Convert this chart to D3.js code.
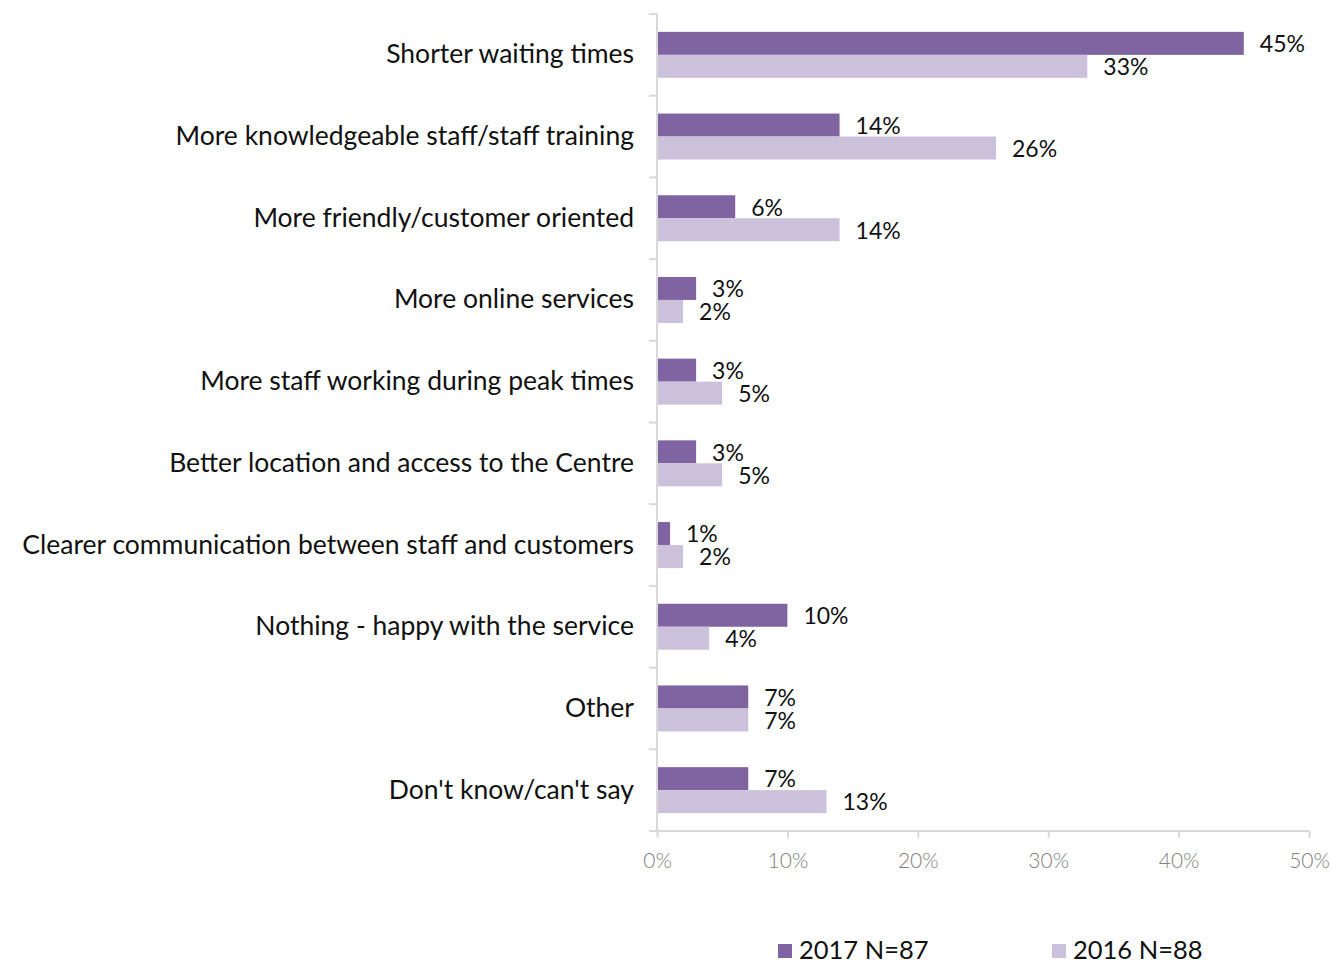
<!DOCTYPE html>
<html>
<head>
<meta charset="utf-8">
<script src="https://cdn.jsdelivr.net/npm/d3@7"></script>
<style>
  body { margin: 0; background: #fff; }
  svg { display: block; font-family: "Lato", "DejaVu Sans", sans-serif; }
</style>
</head>
<body>
<svg id="chart" width="1331" height="965"></svg>
<script>
// Suggested improvements, share of respondents
const categories = [
  "Shorter waiting times",
  "More knowledgeable staff/staff training",
  "More friendly/customer oriented",
  "More online services",
  "More staff working during peak times",
  "Better location and access to the Centre",
  "Clearer communication between staff and customers",
  "Nothing - happy with the service",
  "Other",
  "Don't know/can't say"
];
const values2017 = [45, 14, 6, 3, 3, 3, 1, 10, 7, 7];
const values2016 = [33, 26, 14, 2, 5, 5, 2, 4, 7, 13];
const seriesNames = ["2017 N=87", "2016 N=88"];
const xTicks = [0, 10, 20, 30, 40, 50];

(function draw() {
  const colors = ["#8064A2", "#CCC1DA"];
  const svg = d3.select("#chart");

  const plotLeft = 657, plotRight = 1309, plotTop = 14, plotBottom = 831;
  const x = d3.scaleLinear().domain([0, 50]).range([plotLeft, plotRight]);
  const y = d3.scaleBand().domain(categories).range([plotTop, plotBottom]).padding(0);
  const barH = 23;
  const axisColor = "#D9D9D9";

  // Bars and value labels
  const series = [values2017, values2016];
  series.forEach((vals, si) => {
    svg.append("g").selectAll("rect")
      .data(categories)
      .join("rect")
      .attr("x", x(0))
      .attr("y", (d) => y(d) + y.bandwidth() / 2 - barH + si * barH)
      .attr("width", (d, i) => x(vals[i]) - x(0))
      .attr("height", barH)
      .attr("fill", colors[si]);

    svg.append("g").selectAll("text")
      .data(categories)
      .join("text")
      .attr("x", (d, i) => x(vals[i]) + 16)
      .attr("y", (d) => y(d) + y.bandwidth() / 2 - barH / 2 + si * barH + 3)
      .attr("dominant-baseline", "middle")
      .attr("font-size", 23)
      .attr("fill", "#111")
      .text((d, i) => vals[i] + "%");
  });

  // Category axis
  const yAxis = svg.append("g")
    .attr("transform", `translate(${plotLeft},0)`)
    .call(d3.axisLeft(y).tickSize(0).tickPadding(23));
  yAxis.select(".domain").remove();
  yAxis.selectAll("text")
    .attr("font-size", 26.5).attr("fill", "#111")
    .attr("font-family", "Lato, sans-serif").attr("font-weight", 400);
  svg.append("line")
    .attr("x1", plotLeft).attr("x2", plotLeft).attr("y1", plotTop).attr("y2", plotBottom)
    .attr("stroke", axisColor).attr("stroke-width", 2);
  const boundaries = categories.map((c) => y(c)).concat([plotBottom]);
  svg.append("g").selectAll("line")
    .data(boundaries)
    .join("line")
    .attr("x1", plotLeft - 8).attr("x2", plotLeft)
    .attr("y1", (d) => d).attr("y2", (d) => d)
    .attr("stroke", axisColor).attr("stroke-width", 2);

  // Value axis
  const xAxis = svg.append("g")
    .attr("transform", `translate(0,${plotBottom})`)
    .call(d3.axisBottom(x).tickValues(xTicks).tickFormat((d) => d + "%").tickSize(7).tickPadding(15));
  xAxis.select(".domain").attr("stroke", axisColor).attr("stroke-width", 2)
    .attr("d", `M${plotLeft},0H${plotRight}`);
  xAxis.selectAll(".tick line").attr("stroke", axisColor).attr("stroke-width", 2);
  xAxis.selectAll("text")
    .attr("font-size", 21).attr("fill", "#808080")
    .attr("font-family", "Lato, sans-serif").attr("font-weight", 300);

  // Legend
  const legendX = [778, 1052];
  const legend = svg.append("g").selectAll("g")
    .data(seriesNames)
    .join("g")
    .attr("transform", (d, i) => `translate(${legendX[i]},944)`);
  legend.append("rect").attr("width", 14).attr("height", 14).attr("fill", (d, i) => colors[i]);
  legend.append("text")
    .attr("x", 21).attr("y", 9)
    .attr("dominant-baseline", "middle")
    .attr("font-size", 25.5)
    .attr("fill", "#111")
    .text((d) => d);
})();
</script>
</body>
</html>
